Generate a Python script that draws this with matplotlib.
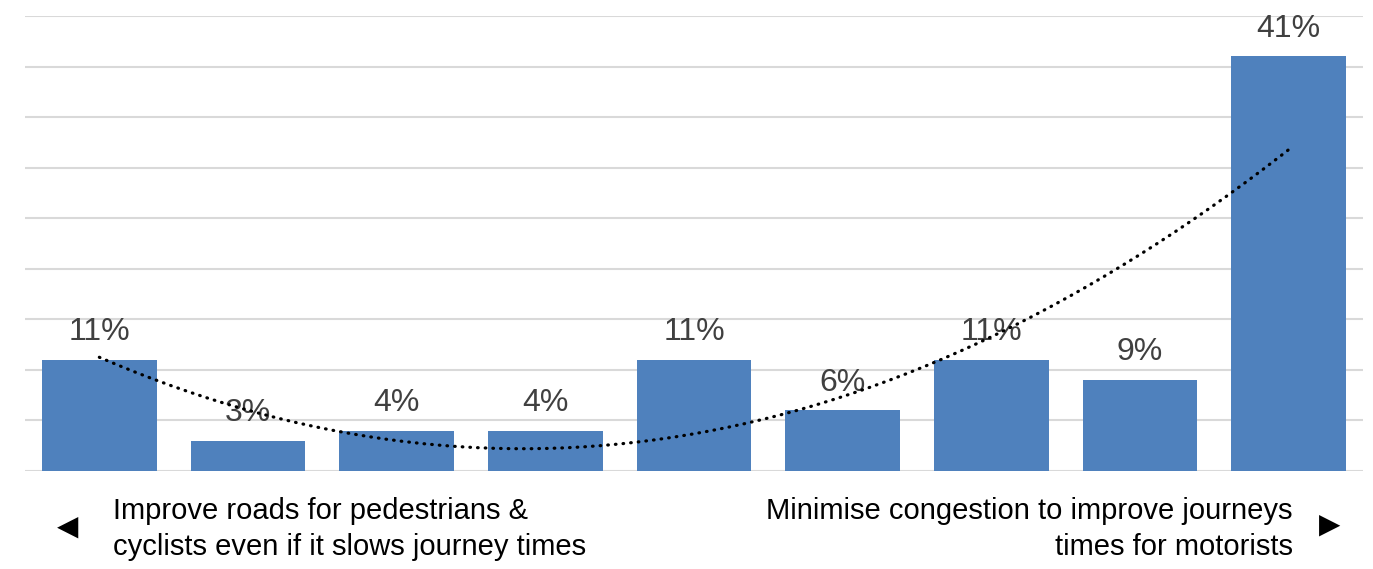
import numpy as np
import matplotlib
matplotlib.use("Agg")
import matplotlib.pyplot as plt

plt.rcParams['font.family'] = ['Liberation Sans', 'DejaVu Sans']

positions = [1, 2, 3, 4, 5, 6, 7, 8, 9]
values = [11, 3, 4, 4, 11, 6, 11, 9, 41]
labels = [f"{v}%" for v in values]
left_text = "Improve roads for pedestrians &\ncyclists even if it slows journey times"
right_text = "Minimise congestion to improve journeys\ntimes for motorists"

fig = plt.figure(figsize=(13.73, 5.69), dpi=100)
ax = fig.add_axes([25/1373, 1-471/569, 1338/1373, 455/569])

bar_color = '#4f81bd'
ax.bar(positions, values, width=0.77, color=bar_color, zorder=2)

# polynomial (order 2) trendline
coef = np.polyfit(positions, values, 2)
xs = np.linspace(positions[0], positions[-1], 200)
ax.plot(xs, np.polyval(coef, xs), color='black', linestyle=(0, (0.2, 2.2)),
        linewidth=2.3, dash_capstyle='round', zorder=4)

for x, v, lab in zip(positions, values, labels):
    ax.annotate(lab, (x, v), xytext=(0, 9), textcoords='offset points',
                ha='center', va='bottom', fontsize=23, color='#404040', zorder=3)

ax.set_xlim(0.5, 9.5)
ax.set_ylim(0, 45)
ax.set_yticks(np.arange(0, 46, 5))
ax.yaxis.grid(True, color='#d9d9d9', linewidth=1.5, zorder=0)
ax.set_axisbelow(True)
ax.tick_params(left=False, bottom=False, labelleft=False, labelbottom=False)
for s in ax.spines.values():
    s.set_visible(False)

fig.text(113/1373, 1-529/569, left_text, ha='left', va='center', fontsize=21,
         color='black', linespacing=1.4)
fig.text(1293/1373, 1-529/569, right_text, ha='right', va='center', fontsize=21,
         color='black', linespacing=1.4, multialignment='right')
fig.text(68/1373, 1-527/569, '\u25C0', ha='center', va='center', fontsize=20,
         color='black', family='DejaVu Sans')
fig.text(1330/1373, 1-525/569, '\u25B6', ha='center', va='center', fontsize=20,
         color='black', family='DejaVu Sans')

fig.savefig('out.png', dpi=100, facecolor='white')
